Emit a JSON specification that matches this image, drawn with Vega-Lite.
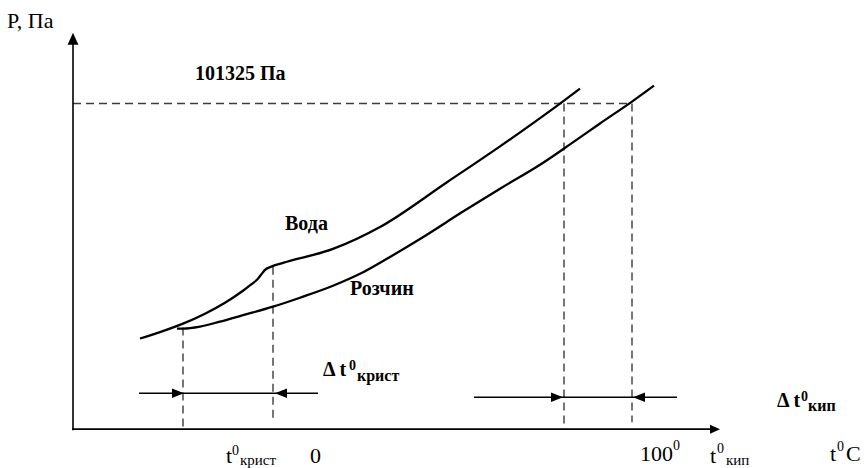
{
  "$schema": "https://vega.github.io/schema/vega-lite/v6.json",
  "width": 867,
  "height": 468,
  "padding": 0,
  "autosize": {"type": "fit", "contains": "padding"},
  "background": "white",
  "config": {"view": {"stroke": null}, "text": {"font": "Liberation Serif, Times New Roman, serif"}},
  "datasets": {
    "solid": [
      {"x": 73, "y": 432, "x2": 73, "y2": 40},
      {"x": 72, "y": 431, "x2": 714, "y2": 431},
      {"x": 139, "y": 395, "x2": 318, "y2": 395},
      {"x": 474, "y": 399, "x2": 677, "y2": 399}
    ],
    "dashed": [
      {"x": 73, "y": 104, "x2": 632, "y2": 104},
      {"x": 183, "y": 329, "x2": 183, "y2": 431},
      {"x": 273, "y": 268, "x2": 273, "y2": 424},
      {"x": 564, "y": 104, "x2": 564, "y2": 431},
      {"x": 632, "y": 104, "x2": 632, "y2": 424}
    ],
    "curves": [
      {"s": "Вода", "x": 140, "y": 340}, {"s": "Вода", "x": 160, "y": 333.5}, {"s": "Вода", "x": 183, "y": 325},
      {"s": "Вода", "x": 205, "y": 315}, {"s": "Вода", "x": 225, "y": 304}, {"s": "Вода", "x": 243, "y": 292},
      {"s": "Вода", "x": 252, "y": 285}, {"s": "Вода", "x": 257, "y": 281}, {"s": "Вода", "x": 261, "y": 276},
      {"s": "Вода", "x": 265, "y": 271}, {"s": "Вода", "x": 272, "y": 267.5}, {"s": "Вода", "x": 283, "y": 264},
      {"s": "Вода", "x": 333, "y": 250}, {"s": "Вода", "x": 380, "y": 228}, {"s": "Вода", "x": 447, "y": 183},
      {"s": "Вода", "x": 500, "y": 147}, {"s": "Вода", "x": 560, "y": 104}, {"s": "Вода", "x": 580, "y": 89},
      {"s": "Розчин", "x": 177, "y": 330}, {"s": "Розчин", "x": 183, "y": 330}, {"s": "Розчин", "x": 200, "y": 328},
      {"s": "Розчин", "x": 220, "y": 323}, {"s": "Розчин", "x": 245, "y": 316}, {"s": "Розчин", "x": 273, "y": 308},
      {"s": "Розчин", "x": 300, "y": 299}, {"s": "Розчин", "x": 333, "y": 287}, {"s": "Розчин", "x": 360, "y": 275},
      {"s": "Розчин", "x": 390, "y": 258}, {"s": "Розчин", "x": 420, "y": 240}, {"s": "Розчин", "x": 463, "y": 212.5},
      {"s": "Розчин", "x": 500, "y": 189.5}, {"s": "Розчин", "x": 540, "y": 165.5}, {"s": "Розчин", "x": 570, "y": 145},
      {"s": "Розчин", "x": 600, "y": 124}, {"s": "Розчин", "x": 632, "y": 102}, {"s": "Розчин", "x": 654, "y": 86}
    ],
    "arrowUp": [{"x": 73, "y": 39}],
    "arrowAxisRight": [{"x": 715, "y": 431}],
    "arrowRight": [{"x": 178, "y": 395}, {"x": 557, "y": 399}],
    "arrowLeft": [{"x": 281, "y": 395}, {"x": 639, "y": 399}],
    "boldMain": [
      {"x": 195, "y": 80, "t": "101325 Па"},
      {"x": 285, "y": 231, "t": "Вода"},
      {"x": 350, "y": 296, "t": "Розчин"},
      {"x": 323, "y": 378, "t": "Δ t"},
      {"x": 777, "y": 409, "t": "Δ t"}
    ],
    "boldSup": [
      {"x": 349, "y": 372, "t": "0"},
      {"x": 801, "y": 403, "t": "0"}
    ],
    "boldSub": [
      {"x": 357, "y": 383, "t": "крист"},
      {"x": 808, "y": 413, "t": "кип"}
    ],
    "regMain": [
      {"x": 226, "y": 465, "t": "t"},
      {"x": 310, "y": 465, "t": "0"},
      {"x": 640, "y": 463, "t": "100"},
      {"x": 710, "y": 465, "t": "t"},
      {"x": 830, "y": 463, "t": "t"},
      {"x": 846, "y": 463, "t": "C"}
    ],
    "regSup": [
      {"x": 232, "y": 457, "t": "0"},
      {"x": 673, "y": 452, "t": "0"},
      {"x": 717, "y": 455, "t": "0"},
      {"x": 837, "y": 453, "t": "0"}
    ],
    "regSub": [
      {"x": 240, "y": 467, "t": "крист"},
      {"x": 726, "y": 467, "t": "кип"}
    ],
    "title": [{"x": 7, "y": 28, "t": "P, Па"}]
  },
  "encoding": {
    "x": {"field": "x", "type": "quantitative", "scale": {"domain": [0, 867], "nice": false, "zero": false}, "axis": null},
    "y": {"field": "y", "type": "quantitative", "scale": {"domain": [0, 468], "nice": false, "zero": false, "reverse": true}, "axis": null}
  },
  "layer": [
    {
      "data": {"name": "dashed"},
      "mark": {"type": "rule", "color": "#3c3c3c", "strokeWidth": 1.4, "strokeDash": [8, 5]},
      "encoding": {"x2": {"field": "x2"}, "y2": {"field": "y2"}}
    },
    {
      "data": {"name": "solid"},
      "mark": {"type": "rule", "color": "black", "strokeWidth": 1.6},
      "encoding": {"x2": {"field": "x2"}, "y2": {"field": "y2"}}
    },
    {
      "data": {"name": "curves"},
      "mark": {"type": "line", "color": "black", "strokeWidth": 2.3, "interpolate": "monotone"},
      "encoding": {"detail": {"field": "s", "type": "nominal"}, "order": {"field": "x", "type": "quantitative"}}
    },
    {
      "data": {"name": "arrowUp"},
      "mark": {"type": "point", "shape": "M-0.9,1L0,-1L0.9,1Z", "size": 144, "filled": true, "color": "black", "opacity": 1, "strokeWidth": 0}
    },
    {
      "data": {"name": "arrowAxisRight"},
      "mark": {"type": "point", "shape": "M-1,-0.9L1,0L-1,0.9Z", "size": 100, "filled": true, "color": "black", "opacity": 1, "strokeWidth": 0}
    },
    {
      "data": {"name": "arrowRight"},
      "mark": {"type": "point", "shape": "M-1,-0.8L1,0L-1,0.8Z", "size": 144, "filled": true, "color": "black", "opacity": 1, "strokeWidth": 0}
    },
    {
      "data": {"name": "arrowLeft"},
      "mark": {"type": "point", "shape": "M1,-0.8L-1,0L1,0.8Z", "size": 144, "filled": true, "color": "black", "opacity": 1, "strokeWidth": 0}
    },
    {
      "data": {"name": "boldMain"},
      "mark": {"type": "text", "fontWeight": "bold", "fontSize": 20, "align": "left", "baseline": "alphabetic", "color": "black"},
      "encoding": {"text": {"field": "t"}}
    },
    {
      "data": {"name": "boldSup"},
      "mark": {"type": "text", "fontWeight": "bold", "fontSize": 14, "align": "left", "baseline": "alphabetic", "color": "black"},
      "encoding": {"text": {"field": "t"}}
    },
    {
      "data": {"name": "boldSub"},
      "mark": {"type": "text", "fontWeight": "bold", "fontSize": 16, "align": "left", "baseline": "alphabetic", "color": "black"},
      "encoding": {"text": {"field": "t"}}
    },
    {
      "data": {"name": "regMain"},
      "mark": {"type": "text", "fontSize": 22, "align": "left", "baseline": "alphabetic", "color": "black"},
      "encoding": {"text": {"field": "t"}}
    },
    {
      "data": {"name": "regSup"},
      "mark": {"type": "text", "fontSize": 14, "align": "left", "baseline": "alphabetic", "color": "black"},
      "encoding": {"text": {"field": "t"}}
    },
    {
      "data": {"name": "regSub"},
      "mark": {"type": "text", "fontSize": 15, "align": "left", "baseline": "alphabetic", "color": "black"},
      "encoding": {"text": {"field": "t"}}
    },
    {
      "data": {"name": "title"},
      "mark": {"type": "text", "fontSize": 22, "align": "left", "baseline": "alphabetic", "color": "black"},
      "encoding": {"text": {"field": "t"}}
    }
  ]
}
